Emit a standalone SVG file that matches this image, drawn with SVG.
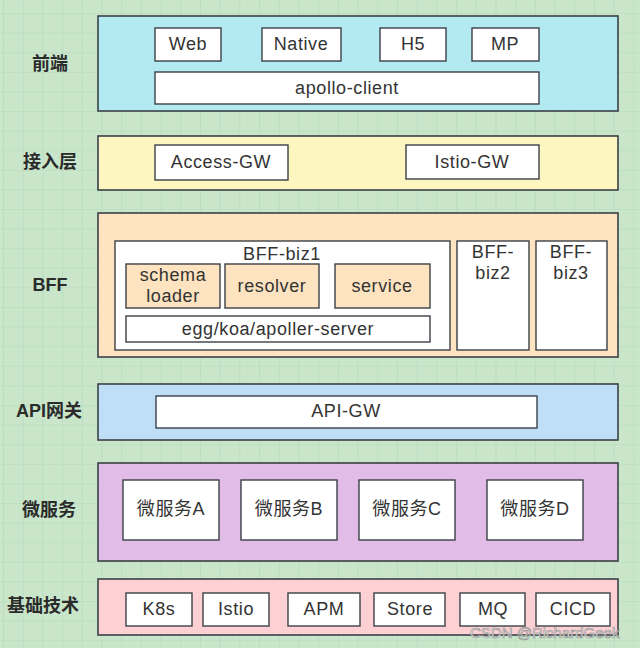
<svg xmlns="http://www.w3.org/2000/svg" width="640" height="648" viewBox="0 0 640 648">
<defs>
<pattern id="grid" x="3" y="13" width="19.7" height="19.6" patternUnits="userSpaceOnUse">
<path d="M0 0H19.7M0 0V19.6" fill="none" stroke="#b5d7b8" stroke-width="1.2"/>
</pattern>
<style>
.layer{stroke:#3b4046;stroke-width:1.6}
.box{fill:#fff;stroke:#3b4046;stroke-width:1.4}
.pbox{fill:#fde3bf;stroke:#3b4046;stroke-width:1.4}
.t{font-family:"Liberation Sans","Noto Sans CJK SC",sans-serif;font-size:18px;letter-spacing:0.6px;fill:#333;text-anchor:middle;dominant-baseline:central}
.lbl{font-family:"Liberation Sans","Noto Sans CJK SC",sans-serif;font-size:18px;font-weight:bold;fill:#2b2b2b;text-anchor:middle;dominant-baseline:central}
</style>
</defs>
<rect width="640" height="648" fill="#c9e6cb"/>
<rect width="640" height="648" fill="url(#grid)"/>

<g id="frontend">
<rect class="layer" x="98" y="16" width="520" height="95" fill="#b3e9f0"/>
<text class="lbl" x="50" y="64">前端</text>
<rect class="box" x="155" y="28" width="66" height="33"/><text class="t" x="188" y="44">Web</text>
<rect class="box" x="262" y="28" width="79" height="33"/><text class="t" x="301" y="44">Native</text>
<rect class="box" x="380" y="28" width="66" height="33"/><text class="t" x="413" y="44">H5</text>
<rect class="box" x="472" y="28" width="67" height="33"/><text class="t" x="505" y="44">MP</text>
<rect class="box" x="155" y="72" width="384" height="32"/><text class="t" x="347" y="88">apollo-client</text>
</g>

<g id="access">
<rect class="layer" x="98" y="136" width="520" height="54" fill="#fdf6c0"/>
<text class="lbl" x="50" y="162">接入层</text>
<rect class="box" x="155" y="145" width="133" height="35"/><text class="t" x="221" y="162">Access-GW</text>
<rect class="box" x="406" y="145" width="133" height="34"/><text class="t" x="472" y="162">Istio-GW</text>
</g>

<g id="bff">
<rect class="layer" x="98" y="213" width="520" height="144" fill="#fde3bf"/>
<text class="lbl" x="50" y="285">BFF</text>
<rect class="box" x="115" y="241" width="335" height="109"/>
<text class="t" x="282" y="254">BFF-biz1</text>
<rect class="pbox" x="126" y="264" width="94" height="44"/><text class="t" x="173" y="275">schema</text><text class="t" x="173" y="296">loader</text>
<rect class="pbox" x="225" y="264" width="94" height="44"/><text class="t" x="272" y="286">resolver</text>
<rect class="pbox" x="335" y="264" width="95" height="44"/><text class="t" x="382" y="286">service</text>
<rect class="box" x="126" y="316" width="304" height="26"/><text class="t" x="278" y="329">egg/koa/apoller-server</text>
<rect class="box" x="457" y="241" width="72" height="109"/><text class="t" x="493" y="252">BFF-</text><text class="t" x="493" y="273">biz2</text>
<rect class="box" x="536" y="241" width="71" height="109"/><text class="t" x="571" y="252">BFF-</text><text class="t" x="571" y="273">biz3</text>
</g>

<g id="apigw">
<rect class="layer" x="98" y="384" width="520" height="56" fill="#bfdff8"/>
<text class="lbl" x="49" y="411">API网关</text>
<rect class="box" x="156" y="396" width="381" height="32"/><text class="t" x="346" y="411">API-GW</text>
</g>

<g id="micro">
<rect class="layer" x="98" y="463" width="520" height="98" fill="#e1bce6"/>
<text class="lbl" x="49" y="510">微服务</text>
<rect class="box" x="123" y="480" width="96" height="60"/><text class="t" x="171" y="509">微服务A</text>
<rect class="box" x="241" y="480" width="96" height="60"/><text class="t" x="289" y="509">微服务B</text>
<rect class="box" x="359" y="480" width="96" height="60"/><text class="t" x="407" y="509">微服务C</text>
<rect class="box" x="487" y="480" width="96" height="60"/><text class="t" x="535" y="509">微服务D</text>
</g>

<g id="infra">
<rect class="layer" x="98" y="579" width="520" height="56" fill="#fdd0d4"/>
<text class="lbl" x="43" y="606">基础技术</text>
<rect class="box" x="126" y="593" width="66" height="33"/><text class="t" x="159" y="609">K8s</text>
<rect class="box" x="203" y="593" width="66" height="33"/><text class="t" x="236" y="609">Istio</text>
<rect class="box" x="288" y="593" width="72" height="33"/><text class="t" x="324" y="609">APM</text>
<rect class="box" x="374" y="593" width="71" height="33"/><text class="t" x="410" y="609">Store</text>
<rect class="box" x="460" y="593" width="65" height="33"/><text class="t" x="493" y="609">MQ</text>
<rect class="box" x="536" y="593" width="74" height="33"/><text class="t" x="573" y="609">CICD</text>
</g>

<g id="connectors"></g>

<text x="470" y="638" font-family="Liberation Sans, sans-serif" font-size="15" fill="#ffffff" fill-opacity="0.85" stroke="#8a8a8a" stroke-width="0.6">CSDN @RichardGeek</text>
</svg>
